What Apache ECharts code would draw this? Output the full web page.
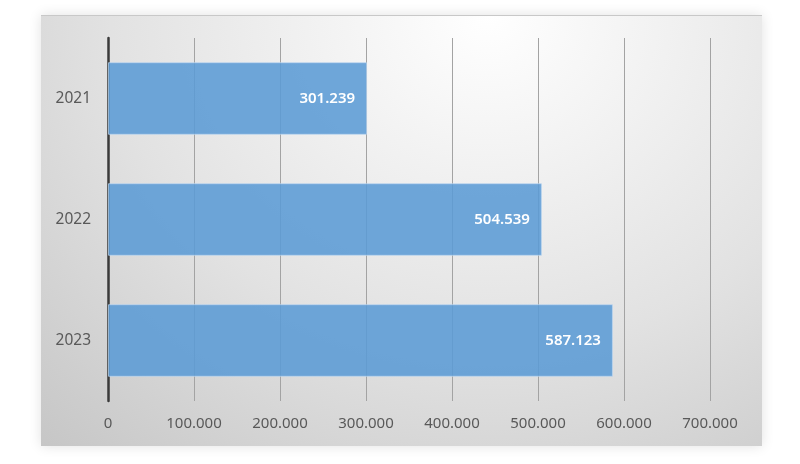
<!DOCTYPE html>
<html>
<head>
<meta charset="utf-8">
<script src="https://cdn.jsdelivr.net/npm/echarts@6/dist/echarts.min.js"></script>
<style>
  html, body { margin: 0; padding: 0; background: #fff; width: 800px; height: 464px; overflow: hidden; }
  #panel {
    position: absolute; left: 41px; top: 15px; width: 721px; height: 431px;
    background: radial-gradient(ellipse 95% 140% at 62% 0%, #ffffff 0%, #e2e2e2 55%, #c4c4c4 100%);
    box-shadow: 0 0 12px rgba(0,0,0,0.12);
    border-top: 1px solid #c8c8c8;
    box-sizing: border-box;
  }
  #chart { position: absolute; left: 0; top: 0; width: 721px; height: 431px; }
</style>
</head>
<body>
<div id="panel"><div id="chart"></div></div>
<script>
let categories = ['2021', '2022', '2023'];
let values = [301239, 504539, 587123];
let xTicks = { min: 0, max: 700000, interval: 100000 };

function ptFormat(v) {
  // dot as thousands separator
  return String(Math.round(v)).replace(/\B(?=(\d{3})+(?!\d))/g, '.');
}

let chart = echarts.init(document.getElementById('chart'));
chart.setOption({
  animation: false,
  backgroundColor: 'transparent',
  textStyle: { fontFamily: 'Noto Sans' },
  grid: { left: 67, right: 52, top: 22, bottom: 46 },
  xAxis: {
    type: 'value',
    min: xTicks.min,
    max: xTicks.max,
    interval: xTicks.interval,
    axisLine: { show: false },
    axisTick: { show: false },
    axisLabel: {
      color: '#595959',
      fontSize: 15,
      margin: 15,
      formatter: ptFormat
    },
    splitLine: { lineStyle: { color: '#a3a3a3', width: 1 } }
  },
  yAxis: {
    type: 'category',
    data: categories,
    inverse: true,
    axisLine: { lineStyle: { color: '#3a3a3a', width: 2.5 } },
    axisTick: { show: false },
    axisLabel: { color: '#595959', fontSize: 15.5, margin: 17 }
  },
  series: [{
    type: 'bar',
    data: values,
    barWidth: '60%',
    itemStyle: {
      color: 'rgba(91,155,213,0.88)',
      borderColor: 'rgba(190,215,240,0.7)',
      borderWidth: 1
    },
    label: {
      show: true,
      position: 'insideRight',
      distance: 12,
      color: '#ffffff',
      fontSize: 15,
      fontWeight: 600,
      formatter: function(p) { return ptFormat(p.value); }
    }
  }]
});
</script>
</body>
</html>
